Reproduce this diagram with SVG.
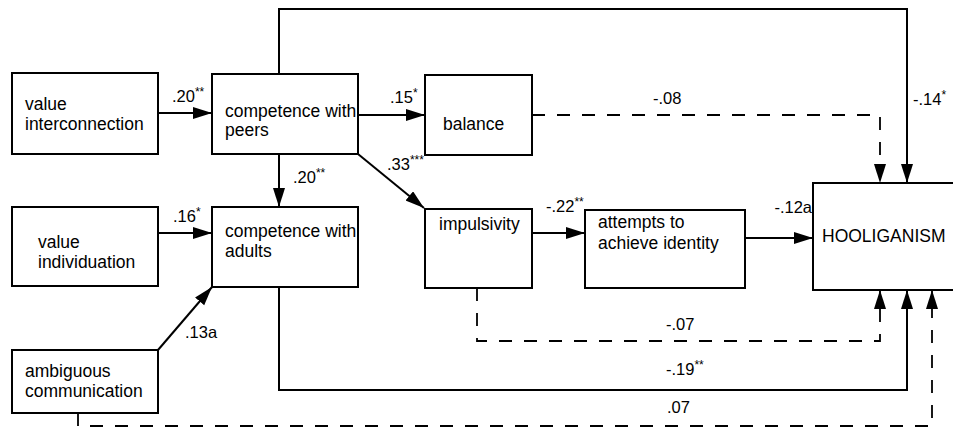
<svg xmlns="http://www.w3.org/2000/svg" width="953" height="433" viewBox="0 0 953 433">
<style>
.box{fill:#fff;stroke:#000;stroke-width:2}
.t{font-family:"Liberation Sans",Arial,sans-serif;font-size:17.5px;fill:#000}
.lab{font-family:"Liberation Sans",Arial,sans-serif;font-size:16.5px;fill:#000}
.sup{font-size:12px}
.c{fill:none;stroke:#000;stroke-width:2}
.d{fill:none;stroke:#000;stroke-width:1.8;stroke-dasharray:13 12}
</style>
<defs>
<marker id="ah" markerUnits="userSpaceOnUse" markerWidth="21" markerHeight="13" refX="19" refY="6" orient="auto">
<path d="M0,0 L19,6 L0,12 z" fill="#000"/>
</marker>
</defs>
<rect width="953" height="433" fill="#fff"/>
<g id="connectors">
<line class="c" x1="158" y1="113" x2="212" y2="113" marker-end="url(#ah)"/>
<path class="c" d="M279,74 V9 H907 V183" marker-end="url(#ah)"/>
<line class="c" x1="358" y1="115" x2="425" y2="115" marker-end="url(#ah)"/>
<path class="d" d="M532,115 H880 V183" marker-end="url(#ah)"/>
<line class="c" x1="279" y1="154" x2="279" y2="207" marker-end="url(#ah)"/>
<line class="c" x1="358" y1="154" x2="424" y2="208" marker-end="url(#ah)"/>
<line class="c" x1="158" y1="233" x2="212" y2="233" marker-end="url(#ah)"/>
<line class="c" x1="158" y1="350" x2="212" y2="287" marker-end="url(#ah)"/>
<line class="c" x1="532" y1="233" x2="585" y2="233" marker-end="url(#ah)"/>
<line class="c" x1="745" y1="238" x2="813" y2="238" marker-end="url(#ah)"/>
<path class="d" d="M477,288 V341 H880 V290" marker-end="url(#ah)"/>
<path class="c" d="M279,287 V390 H907 V290" marker-end="url(#ah)"/>
<path class="d" d="M78,413 V426 H932 V290" marker-end="url(#ah)"/>
<text class="lab" x="172" y="102">.20<tspan class="sup" dy="-6">**</tspan></text>
<text class="lab" x="913" y="105">-.14<tspan class="sup" dy="-6">*</tspan></text>
<text class="lab" x="390" y="103">.15<tspan class="sup" dy="-6">*</tspan></text>
<text class="lab" x="653" y="104">-.08</text>
<text class="lab" x="293" y="183">.20<tspan class="sup" dy="-6">**</tspan></text>
<text class="lab" x="387" y="170">.33<tspan class="sup" dy="-6">***</tspan></text>
<text class="lab" x="173" y="222">.16<tspan class="sup" dy="-6">*</tspan></text>
<text class="lab" x="185" y="338">.13a</text>
<text class="lab" x="546" y="212">-.22<tspan class="sup" dy="-6">**</tspan></text>
<text class="lab" x="812" y="213" text-anchor="end">-.12a</text>
<text class="lab" x="666" y="330">-.07</text>
<text class="lab" x="666" y="375">-.19<tspan class="sup" dy="-6">**</tspan></text>
<text class="lab" x="667" y="413">.07</text>
</g>
<g id="value-interconnection">
<rect class="box" x="12" y="73" width="146" height="81"/>
<text class="t" x="25" y="110">value</text>
<text class="t" x="25" y="130">interconnection</text>
</g>
<g id="competence-peers">
<rect class="box" x="212" y="74" width="146" height="80"/>
<text class="t" x="225" y="117">competence with</text>
<text class="t" x="225" y="136">peers</text>
</g>
<g id="balance">
<rect class="box" x="425" y="75" width="107" height="80"/>
<text class="t" x="443" y="130">balance</text>
</g>
<g id="value-individuation">
<rect class="box" x="12" y="207" width="146" height="79"/>
<text class="t" x="38" y="248">value</text>
<text class="t" x="38" y="268">individuation</text>
</g>
<g id="competence-adults">
<rect class="box" x="212" y="207" width="146" height="80"/>
<text class="t" x="225" y="237">competence with</text>
<text class="t" x="225" y="257">adults</text>
</g>
<g id="impulsivity">
<rect class="box" x="425" y="209" width="107" height="79"/>
<text class="t" x="439" y="230">impulsivity</text>
</g>
<g id="attempts">
<rect class="box" x="585" y="210" width="160" height="78"/>
<text class="t" x="598" y="228">attempts to</text>
<text class="t" x="598" y="249">achieve identity</text>
</g>
<g id="hooliganism">
<rect class="box" x="813" y="183" width="150" height="107"/>
<text class="t" x="822" y="242">HOOLIGANISM</text>
</g>
<g id="ambiguous-communication">
<rect class="box" x="12" y="350" width="146" height="63"/>
<text class="t" x="25" y="377">ambiguous</text>
<text class="t" x="25" y="397">communication</text>
</g>
</svg>
